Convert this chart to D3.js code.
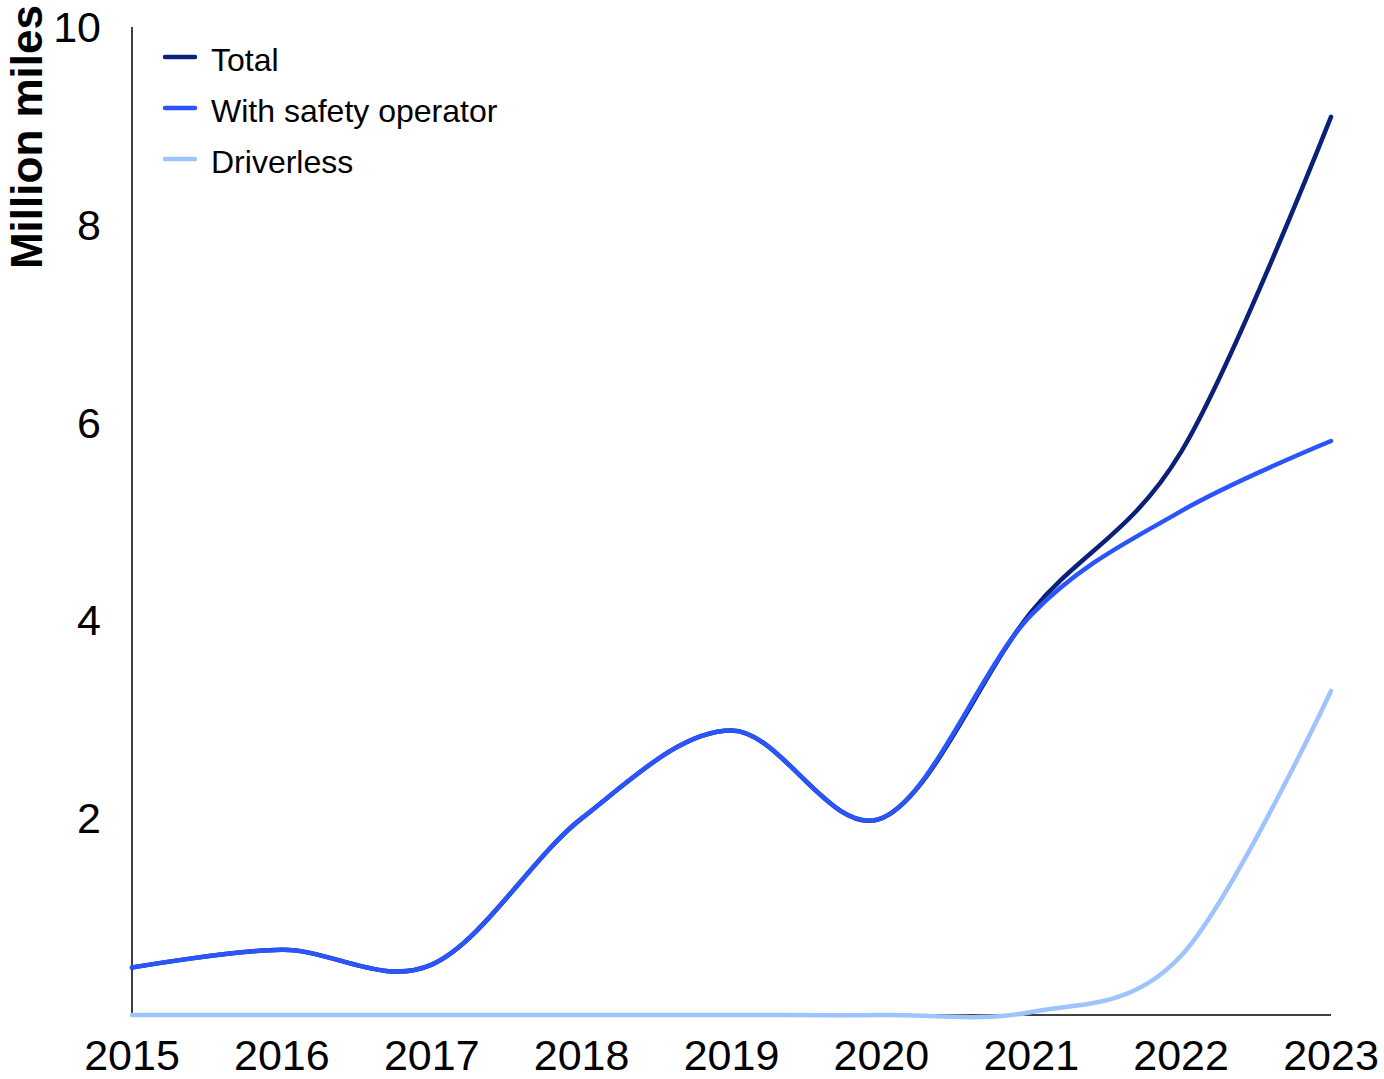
<!DOCTYPE html>
<html>
<head>
<meta charset="utf-8">
<script src="https://cdn.jsdelivr.net/npm/d3@7"></script>
<style>
  html, body { margin: 0; padding: 0; background: #ffffff; }
  svg { display: block; font-family: "Liberation Sans", Arial, sans-serif; }
</style>
</head>
<body>
<svg id="chart" width="1384" height="1079"></svg>
<script>
// Annual autonomous miles, in millions
const years = [2015, 2016, 2017, 2018, 2019, 2020, 2021, 2022, 2023];
const totalMiles = [0.48, 0.66, 0.51, 1.99, 2.88, 1.99, 4.08, 5.70, 9.09];
const safetyOperatorMiles = [0.48, 0.66, 0.51, 1.99, 2.88, 1.99, 4.05, 5.10, 5.81];
const driverlessMiles = [0, 0, 0, 0, 0, 0, 0.03, 0.60, 3.28];
const yTicks = [2, 4, 6, 8, 10];
const seriesNames = ["Total", "With safety operator", "Driverless"];
const seriesColors = ["#0b2179", "#2a55fb", "#9dc4fd"];

const svg = d3.select("#chart");
const x = d3.scaleLinear().domain([2015, 2023]).range([132, 1331]);
const y = d3.scaleLinear().domain([0, 10]).range([1015, 27]);

// Axis lines
svg.append("line").attr("x1", x(2015)).attr("x2", x(2015))
  .attr("y1", y(10)).attr("y2", y(0)).attr("stroke", "#000").attr("stroke-width", 1.5);
svg.append("line").attr("x1", x(2015)).attr("x2", x(2023))
  .attr("y1", y(0)).attr("y2", y(0)).attr("stroke", "#000").attr("stroke-width", 1.5);

// Tick labels
svg.append("g").selectAll("text").data(yTicks).join("text")
  .attr("x", 101).attr("y", d => y(d)).attr("dy", "0.36em")
  .attr("text-anchor", "end").attr("font-size", 43).attr("fill", "#000")
  .text(d => d);

svg.append("g").selectAll("text").data(years).join("text")
  .attr("x", d => x(d)).attr("y", 1070)
  .attr("text-anchor", "middle").attr("font-size", 43).attr("fill", "#000")
  .text(d => d);

// Axis title
svg.append("text")
  .attr("transform", "translate(42,5) rotate(-90)")
  .attr("text-anchor", "end").attr("font-size", 44).attr("font-weight", "bold")
  .attr("fill", "#000").text("Million miles");

// Series lines
const line = d3.line().x((d, i) => x(years[i])).y(d => y(d)).curve(d3.curveCardinal.tension(0));
const seriesData = [totalMiles, safetyOperatorMiles, driverlessMiles];
svg.append("g").selectAll("path").data(seriesData).join("path")
  .attr("d", d => line(d)).attr("fill", "none")
  .attr("stroke", (d, i) => seriesColors[i]).attr("stroke-width", 4.5)
  .attr("stroke-linecap", "round").attr("stroke-linejoin", "round");

// Legend
const legend = svg.append("g").selectAll("g").data(seriesNames).join("g")
  .attr("transform", (d, i) => `translate(0,${57 + i * 51})`);
legend.append("line").attr("x1", 165).attr("x2", 195).attr("y1", 0).attr("y2", 0)
  .attr("stroke", (d, i) => seriesColors[i]).attr("stroke-width", 4.5)
  .attr("stroke-linecap", "round");
legend.append("text").attr("x", 211).attr("y", 0).attr("dy", "0.43em")
  .attr("font-size", 32).attr("fill", "#000").text(d => d);
</script>
</body>
</html>
